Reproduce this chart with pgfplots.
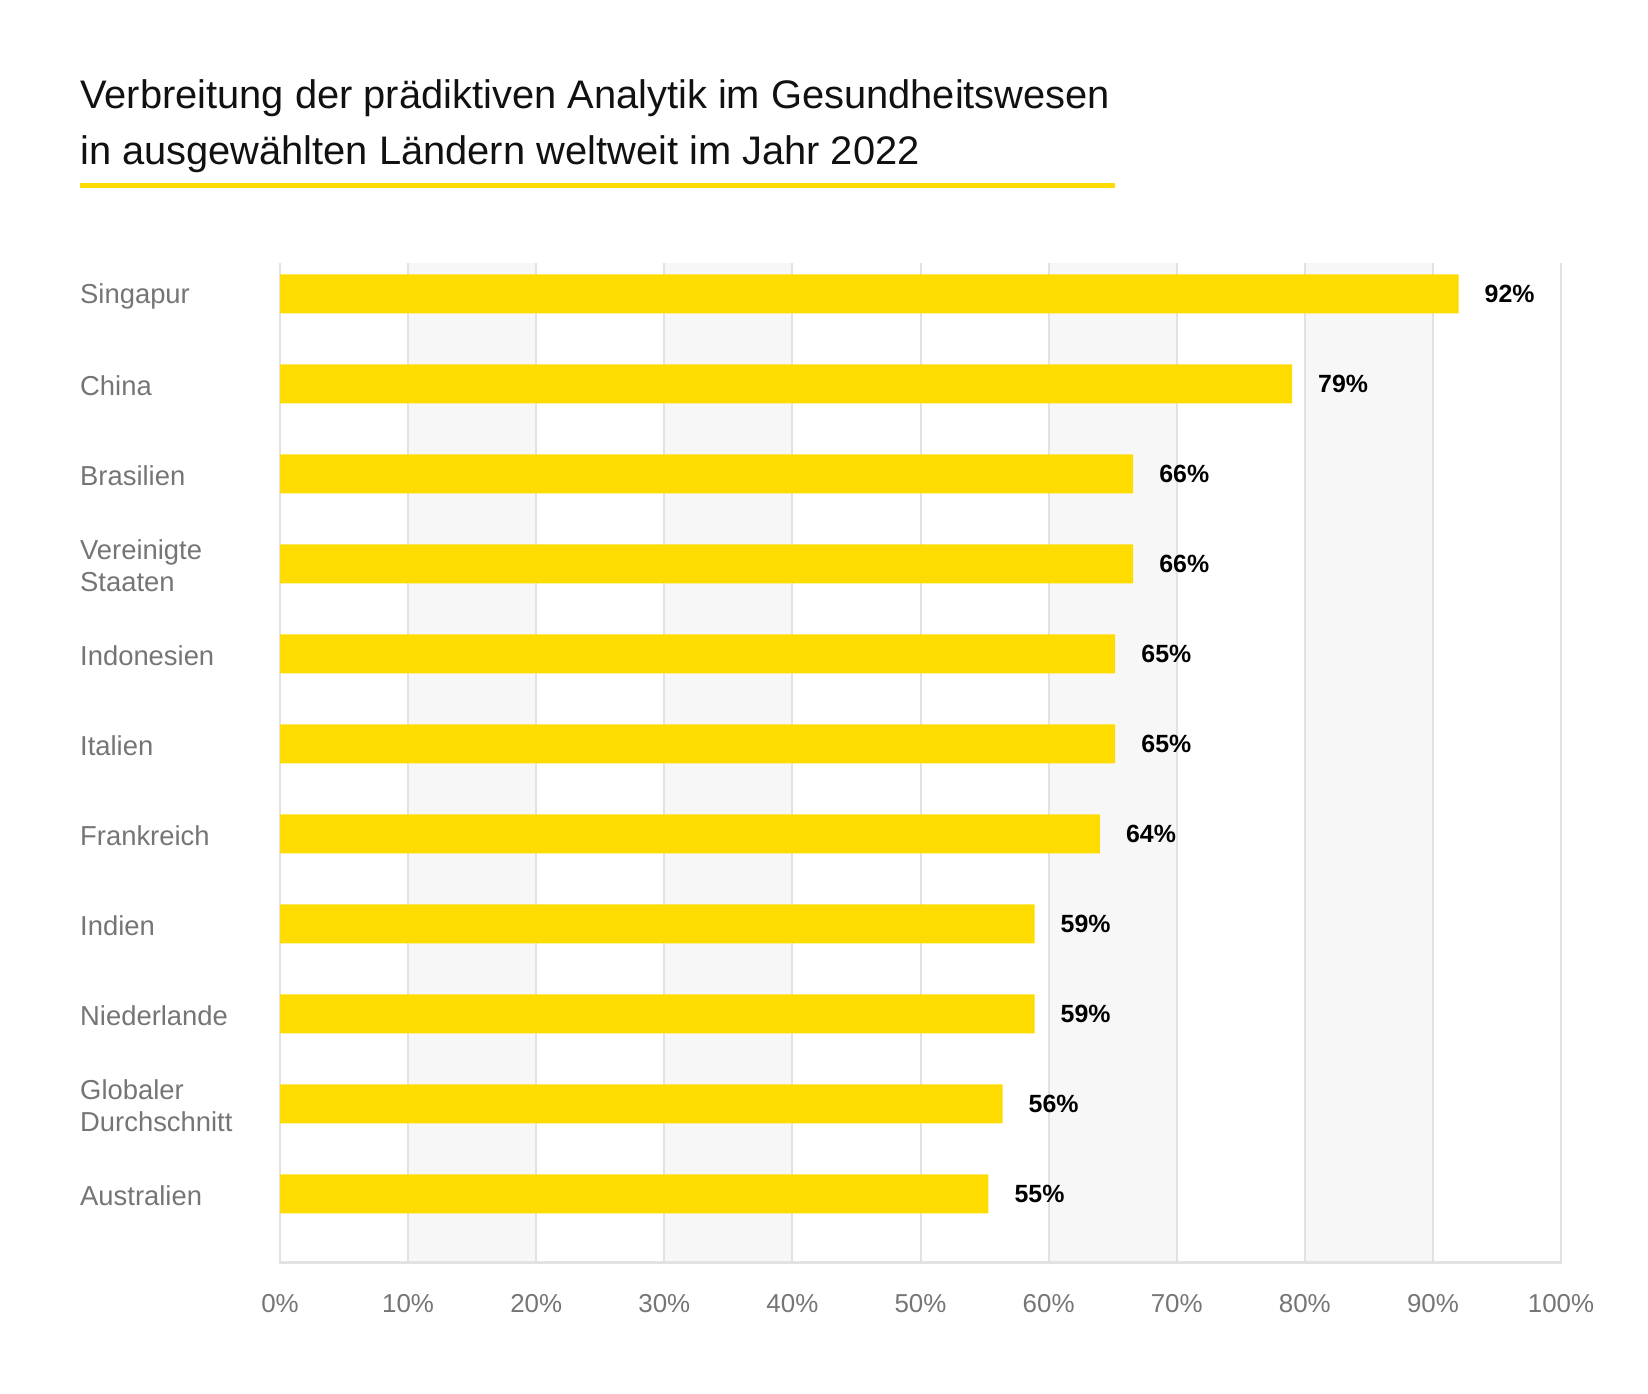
\documentclass[border=0pt]{standalone}
\usepackage{pgfplots}
\pgfplotsset{compat=1.18}
\usepackage{fontspec}
\setmainfont{Liberation Sans}
\definecolor{barY}{HTML}{FFDC00}
\definecolor{bandgray}{HTML}{F7F7F7}
\definecolor{gridgray}{HTML}{E2E2E2}
\definecolor{labelgray}{HTML}{757575}
\definecolor{titleblack}{HTML}{111111}
\begin{document}
\begin{tikzpicture}[x=1bp,y=1bp]
\path[use as bounding box] (0,0) rectangle (1648,1394);
\node[anchor=base west, inner sep=0pt, text=titleblack, font=\fontsize{40}{56}\selectfont] at (80,1285) {Verbreitung der prädiktiven Analytik im Gesundheitswesen};
\node[anchor=base west, inner sep=0pt, text=titleblack, font=\fontsize{40}{56}\selectfont] at (80,1229) {in ausgewählten Ländern weltweit im Jahr 2022};
\draw[barY, line width=5bp] (80,1208) -- (1115,1208);
\begin{axis}[
  at={(280bp,131bp)}, anchor=south west,
  width=1281bp, height=1000bp, scale only axis,
  xmin=0, xmax=100, ymin=-0.767, ymax=10.344,
  axis line style={draw=none},
  major tick length=0pt,
  xtick={0,10,...,100},
  xticklabels={0\%,10\%,20\%,30\%,40\%,50\%,60\%,70\%,80\%,90\%,100\%},
  xticklabel style={inner sep=0pt, anchor=north, yshift=-31bp, font=\fontsize{26}{31}\selectfont, text=labelgray},
  ytick={0,...,10},
  yticklabels={Australien,{Globaler\\Durchschnitt},Niederlande,Indien,Frankreich,Italien,Indonesien,{Vereinigte\\Staaten},Brasilien,China,Singapur},
  yticklabel style={anchor=west, align=left, inner sep=0pt, xshift=-200bp, yshift=-2bp, font=\fontsize{27.5}{32}\selectfont, text=labelgray},
  clip=false,
]
\fill[bandgray] (axis cs:10,-0.767) rectangle (axis cs:20,10.344);
\fill[bandgray] (axis cs:30,-0.767) rectangle (axis cs:40,10.344);
\fill[bandgray] (axis cs:60,-0.767) rectangle (axis cs:70,10.344);
\fill[bandgray] (axis cs:80,-0.767) rectangle (axis cs:90,10.344);
\pgfplotsinvokeforeach{0,10,...,100}{
  \draw[gridgray, line width=2bp] (axis cs:#1,-0.767) -- (axis cs:#1,10.344);
}
\draw[gridgray, line width=3bp] (axis cs:-0.1,-0.767) -- (axis cs:100.1,-0.767);
\addplot[xbar, bar width=0.433, fill=barY, draw=none,
  nodes near coords, point meta=explicit symbolic,
  every node near coord/.append style={anchor=west, inner sep=0pt, xshift=26bp, font=\bfseries\fontsize{25}{30}\selectfont, text=black}]
  table[x=x, y=y, meta=lab] {
x y lab
55.3 0 55\%
56.4 1 56\%
58.9 2 59\%
58.9 3 59\%
64.0 4 64\%
65.2 5 65\%
65.2 6 65\%
66.6 7 66\%
66.6 8 66\%
79.0 9 79\%
92.0 10 92\%
};
\end{axis}
\end{tikzpicture}
\end{document}
